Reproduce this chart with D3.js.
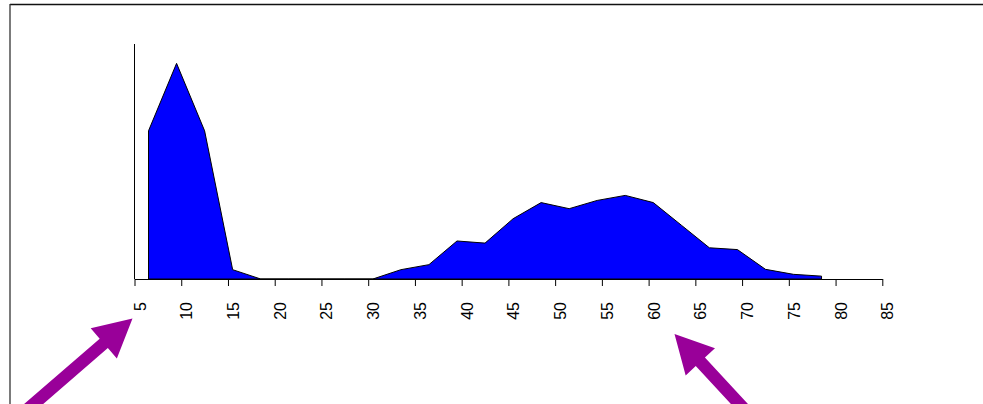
<!DOCTYPE html>
<html>
<head>
<meta charset="utf-8">
<script src="https://cdn.jsdelivr.net/npm/d3@7/dist/d3.min.js"></script>
<style>
  html, body { margin: 0; padding: 0; background: #fff; }
  svg { display: block; }
</style>
</head>
<body>
<script>
// Bin midpoints (width 3) and density of each bin
const binMids = [6.5, 9.5, 12.5, 15.5, 18.5, 21.5, 24.5, 27.5, 30.5, 33.5, 36.5, 39.5, 42.5,
                 45.5, 48.5, 51.5, 54.5, 57.5, 60.5, 63.5, 66.5, 69.5, 72.5, 75.5, 78.5];
const densities = [0.0413, 0.0601, 0.0413, 0.0026, 0, 0, 0, 0, 0, 0.0026, 0.0040, 0.0106, 0.0100,
                   0.0168, 0.0213, 0.0196, 0.0219, 0.0233, 0.0213, 0.0150, 0.0087, 0.0082, 0.0027, 0.0013, 0.0008];
const xTicks = [5, 10, 15, 20, 25, 30, 35, 40, 45, 50, 55, 60, 65, 70, 75, 80, 85];
const yMax = 0.0655;

// Annotation arrows: tip and direction back toward the tail
const arrows = [
  { tip: [132.5, 318.5], dir: [-0.756, 0.654] },
  { tip: [674.5, 334.0], dir: [0.680, 0.733] }
];

const W = 983, H = 404;
const svg = d3.select("body").append("svg").attr("width", W).attr("height", H);

// outer frame
svg.append("line").attr("x1", 10).attr("x2", W + 5).attr("y1", 4.5).attr("y2", 4.5)
  .attr("stroke", "#111").attr("stroke-width", 1.3);
svg.append("line").attr("x1", 10).attr("x2", 10).attr("y1", 4).attr("y2", H + 5)
  .attr("stroke", "#333").attr("stroke-width", 1.3);

const x = d3.scaleLinear().domain([5, 85]).range([134.5, 882.3]);
const y = d3.scaleLinear().domain([0, yMax]).range([279, 44]);

// frequency polygon, closed down to the baseline
const pts = binMids.map((m, i) => [m, densities[i]]);
const poly = [[binMids[0], 0], ...pts, [binMids[binMids.length - 1], 0]];
const area = d3.line().x(d => x(d[0])).y(d => y(d[1]));
svg.append("path")
  .attr("d", area(poly) + "Z")
  .attr("fill", "#0000ff")
  .attr("stroke", "#000")
  .attr("stroke-width", 1)
  .attr("stroke-linejoin", "round");

// y axis: plain line, no ticks
svg.append("line")
  .attr("x1", x(5)).attr("x2", x(5))
  .attr("y1", y(yMax)).attr("y2", y(0))
  .attr("stroke", "#000").attr("stroke-width", 1);

// x axis with rotated labels
const xAxis = d3.axisBottom(x).tickValues(xTicks).tickSize(7).tickSizeOuter(0);
const gx = svg.append("g").attr("transform", `translate(0,${y(0)})`).call(xAxis);
gx.select(".domain").attr("stroke", "#000").attr("stroke-width", 1);
gx.selectAll(".tick line").attr("stroke", "#000").attr("stroke-width", 1);
gx.selectAll(".tick text")
  .attr("font-family", "'Liberation Sans', Arial, sans-serif")
  .attr("font-size", 16)
  .attr("fill", "#000")
  .attr("text-anchor", "end")
  .attr("dy", null)
  .attr("y", 0)
  .attr("x", 0)
  .attr("transform", "translate(10.5,23) rotate(-90)");

// purple arrows
const shaftW = 12.5, headLen = 38, headHalf = 20, tailLen = 200;
arrows.forEach(a => {
  const [tx, ty] = a.tip, [dx, dy] = a.dir;
  const px = -dy, py = dx;           // perpendicular
  const bx = tx + dx * headLen, by = ty + dy * headLen;   // head base center
  const ex = tx + dx * tailLen, ey = ty + dy * tailLen;   // tail end
  const s = shaftW / 2;
  const shape = [
    [tx, ty],
    [bx + px * headHalf, by + py * headHalf],
    [bx + px * s, by + py * s],
    [ex + px * s, ey + py * s],
    [ex - px * s, ey - py * s],
    [bx - px * s, by - py * s],
    [bx - px * headHalf, by - py * headHalf]
  ];
  svg.append("path")
    .attr("d", d3.line()(shape) + "Z")
    .attr("fill", "#990099");
});
</script>
</body>
</html>
